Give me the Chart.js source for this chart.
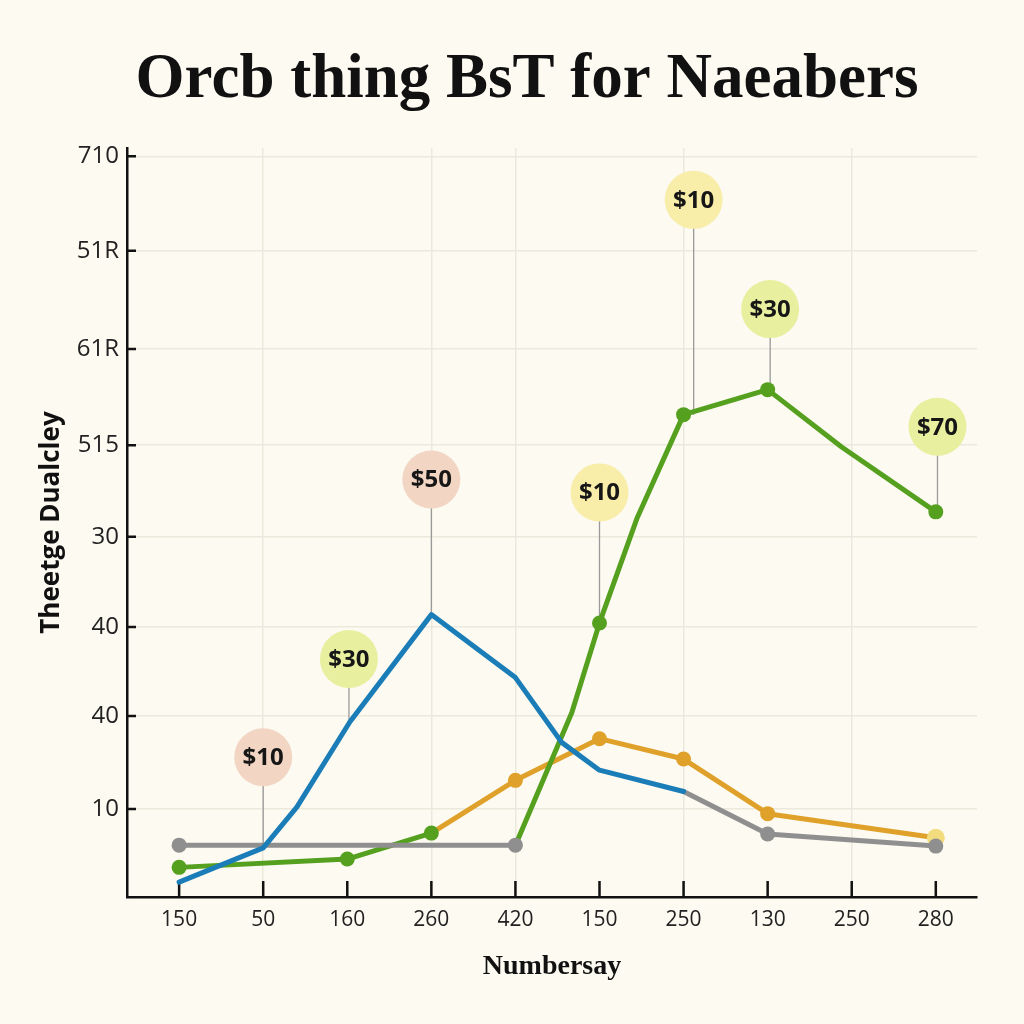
<!DOCTYPE html>
<html lang="en">
<head>
<meta charset="UTF-8">
<title>Orcb thing BsT for Naeabers</title>
<style>
  html, body { margin: 0; padding: 0; background: #fcfaf1; }
  #wrap { width: 1024px; height: 1024px; }
</style>
<script src="https://cdn.jsdelivr.net/npm/chart.js"></script>
</head>
<body>
<div id="wrap"><canvas id="chart" width="1024" height="1024"></canvas></div>
<script>
// tick labels and where they sit on each axis
const xLabels = ['150', '50', '160', '260', '420', '150', '250', '130', '250', '280'];
const yLabels = ['', '10', '40', '40', '30', '515', '61R', '51R', '710'];
const yTickAt = [0, 0.95, 1.955, 2.915, 3.89, 4.88, 5.92, 6.98, 8.0];

// series (x in category steps, y in grid units, null = break in the line)
const blueX = [0, 1, 1.4, 2.03, 3, 4, 4.55, 5, 6];
const blueY = [0.16, 0.53, 0.97, 1.89, 3.05, 2.37, 1.67, 1.37, 1.14];

const greenX = [0, 2, 3, 3.5, 4, 4.67, 5, 5.45, 6, 7, 7.88, 9];
const greenY = [0.32, 0.41, 0.69, null, 0.56, 1.99, 2.96, 4.10, 5.21, 5.48, 4.86, 4.16];
const greenDot = [1, 1, 1, 0, 0, 0, 1, 0, 1, 1, 0, 1];

const orangeX = [3, 4, 5, 6, 7, 9];
const orangeY = [0.69, 1.26, 1.71, 1.49, 0.90, 0.64];
const orangeDot = [0, 1, 1, 1, 1, 2];

const grayX = [0, 4, 5, 6, 7, 9];
const grayY = [0.56, 0.56, null, 1.14, 0.68, 0.55];
const grayDot = [1, 1, 0, 0, 1, 1];

// callout bubbles
const calloutX = [1, 2.02, 3, 5, 6.12, 7.03, 9.02];
const calloutY = [1.51, 2.57, 4.51, 4.37, 7.53, 6.35, 5.08];
const calloutPointY = [0.53, 1.89, 3.05, 2.96, 5.21, 5.48, 4.16];
const calloutText = ['$10', '$30', '$50', '$10', '$10', '$30', '$70'];
const calloutTone = ['salmon', 'lime', 'salmon', 'yellow', 'yellow', 'lime', 'lime'];

const xGridAt = [1, 3, 4, 6, 8];

const toneColors = { salmon: '#f3d5c3', lime: '#e8f0a0', yellow: '#f8eda9' };
const gridColor = '#ebe8dc';
const sans = "'Open Sans', 'Noto Sans', sans-serif";
const serif = "'Liberation Serif', 'DejaVu Serif', serif";

function points(xs, ys) {
    return xs.map((x, i) => ({ x: x, y: ys[i] }));
}

function dotRadius(dots) {
    return dots.map(d => d === 2 ? 9 : (d ? 7.5 : 0));
}

const background = {
    id: 'background',
    beforeDraw(chart) {
        const c = chart.ctx;
        c.save();
        c.fillStyle = '#fcfaf1';
        c.fillRect(0, 0, chart.width, chart.height);
        c.restore();
    }
};

// short tick marks pointing into the plot
const innerTicks = {
    id: 'innerTicks',
    beforeDatasetsDraw(chart) {
        const c = chart.ctx;
        const xs = chart.scales.x, ys = chart.scales.y;
        c.save();
        c.strokeStyle = '#111';
        c.lineWidth = 2.5;
        c.beginPath();
        xLabels.forEach((_, i) => {
            const px = xs.getPixelForValue(i);
            c.moveTo(px, ys.bottom);
            c.lineTo(px, ys.bottom - 16);
        });
        yTickAt.forEach((v, i) => {
            if (i === 0) return;
            const py = ys.getPixelForValue(v);
            c.moveTo(xs.left, py);
            c.lineTo(xs.left + 9, py);
        });
        c.stroke();
        c.restore();
    }
};

const callouts = {
    id: 'callouts',
    beforeDatasetsDraw(chart) {
        const c = chart.ctx;
        const xs = chart.scales.x, ys = chart.scales.y;
        c.save();
        c.strokeStyle = '#9a9a9a';
        c.lineWidth = 1.3;
        calloutX.forEach((x, i) => {
            const px = xs.getPixelForValue(x);
            c.beginPath();
            c.moveTo(px, ys.getPixelForValue(calloutY[i]) + 28);
            c.lineTo(px, ys.getPixelForValue(calloutPointY[i]));
            c.stroke();
        });
        c.restore();
    },
    afterDatasetsDraw(chart) {
        const c = chart.ctx;
        const xs = chart.scales.x, ys = chart.scales.y;
        c.save();
        c.font = "bold 24px " + sans;
        c.textAlign = 'center';
        c.textBaseline = 'middle';
        calloutX.forEach((x, i) => {
            const px = xs.getPixelForValue(x);
            const py = ys.getPixelForValue(calloutY[i]);
            c.fillStyle = toneColors[calloutTone[i]];
            c.beginPath();
            c.arc(px, py, 29, 0, Math.PI * 2);
            c.fill();
            c.fillStyle = '#161616';
            c.fillText(calloutText[i], px, py + 1);
        });
        c.restore();
    }
};

const lineStyle = {
    borderWidth: 5,
    tension: 0,
    spanGaps: false,
    borderJoinStyle: 'round',
    borderCapStyle: 'round',
    pointBorderWidth: 0,
    pointHoverRadius: 0,
    clip: false
};

// first dataset ends up on top
const chart = new Chart(document.getElementById('chart'), {
    type: 'line',
    data: {
        datasets: [
            Object.assign({
                label: 'blue',
                data: points(blueX, blueY),
                borderColor: '#1a7db8',
                pointRadius: 0
            }, lineStyle),
            Object.assign({
                label: 'gray',
                data: points(grayX, grayY),
                borderColor: '#8f8f8f',
                pointBackgroundColor: '#8f8f8f',
                pointRadius: dotRadius(grayDot)
            }, lineStyle),
            Object.assign({
                label: 'green',
                data: points(greenX, greenY),
                borderColor: '#55a01f',
                pointBackgroundColor: '#55a01f',
                pointRadius: dotRadius(greenDot)
            }, lineStyle),
            Object.assign({
                label: 'orange',
                data: points(orangeX, orangeY),
                borderColor: '#dfa12a',
                pointBackgroundColor: orangeDot.map(d => d === 2 ? '#f3dc7e' : '#dfa12a'),
                pointRadius: dotRadius(orangeDot)
            }, lineStyle)
        ]
    },
    options: {
        responsive: false,
        animation: false,
        events: [],
        layout: { padding: { left: 77, right: 47, top: 0, bottom: 0 } },
        plugins: {
            legend: { display: false },
            tooltip: { enabled: false },
            title: {
                display: true,
                text: 'Orcb thing BsT for Naeabers',
                color: '#111',
                font: { family: serif, size: 63, weight: 'bold' },
                padding: { top: 43, bottom: 29.4 }
            }
        },
        scales: {
            x: {
                type: 'linear',
                min: -0.62,
                max: 9.49,
                afterBuildTicks: s => { s.ticks = xLabels.map((_, i) => ({ value: i })); },
                afterFit: s => { s.height = 127; },
                ticks: {
                    callback: (v, i) => xLabels[i],
                    color: '#222',
                    font: { family: sans, size: 21 },
                    padding: 10,
                    maxRotation: 0,
                    autoSkip: false
                },
                grid: {
                    color: ctx => xGridAt.includes(ctx.index) ? gridColor : 'rgba(0,0,0,0)',
                    lineWidth: 1.5,
                    drawTicks: false
                },
                border: { color: '#111', width: 2.5 },
                title: {
                    display: true,
                    text: 'Numbersay',
                    color: '#111',
                    font: { family: serif, size: 28, weight: 'bold' },
                    padding: { top: 0, bottom: 40 }
                }
            },
            y: {
                type: 'linear',
                min: 0,
                max: 8.09,
                afterBuildTicks: s => { s.ticks = yTickAt.map(v => ({ value: v })); },
                afterFit: s => { s.width = 50; },
                ticks: {
                    callback: (v, i) => yLabels[i],
                    color: '#222',
                    font: { family: sans, size: 24 },
                    padding: 8
                },
                grid: {
                    color: ctx => ctx.index === 0 ? 'rgba(0,0,0,0)' : gridColor,
                    lineWidth: 1.5,
                    drawTicks: false
                },
                border: { color: '#111', width: 2.5 },
                title: {
                    display: true,
                    text: 'Theetge Dualcley',
                    color: '#111',
                    font: { family: sans, size: 26, weight: 'bold' },
                    padding: { top: -40.6, bottom: 0 }
                }
            }
        }
    },
    plugins: [background, innerTicks, callouts]
});
</script>
</body>
</html>
